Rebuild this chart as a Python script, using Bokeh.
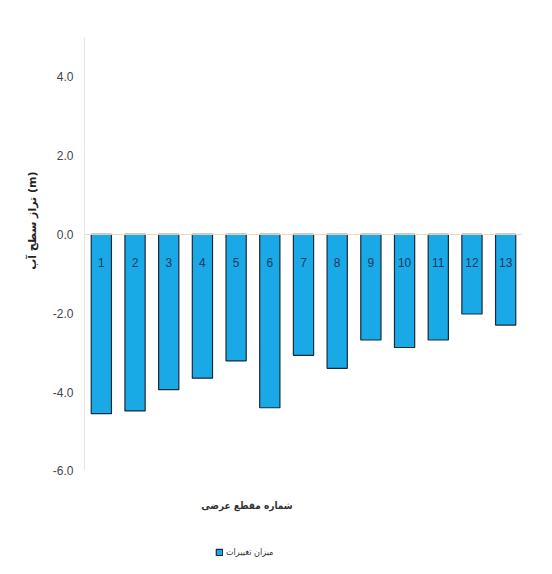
from bokeh.plotting import figure
from bokeh.models import (ColumnDataSource, Range1d, FactorRange, FixedTicker,
                          NumeralTickFormatter, Legend, LegendItem, Span, Title, Label)
from bokeh.core.properties import value
from bokeh.embed import file_html
from bokeh.resources import INLINE

# ---- data ----
sections = ["1", "2", "3", "4", "5", "6", "7", "8", "9", "10", "11", "12", "13"]
changes = [-4.55, -4.48, -3.94, -3.65, -3.21, -4.40, -3.07, -3.40, -2.68, -2.87, -2.68, -2.02, -2.30]
y_ticks = [-6, -4, -2, 0, 2, 4]
y_title = "تراز سطح آب (m)"
x_title = "شماره مقطع عرضی"
series_name = "میزان تغییرات"

base = [0] * len(sections)
src = ColumnDataSource(dict(sec=sections, val=changes, base=base))

p = figure(width=544, height=566, output_backend="svg", toolbar_location=None,
           x_range=FactorRange(*sections, range_padding=0),
           y_range=Range1d(-8.43, 5),
           min_border_left=84, min_border_right=22, min_border_top=37, min_border_bottom=0)
p.outline_line_color = None
p.xgrid.grid_line_color = None
p.ygrid.grid_line_color = None
p.background_fill_color = "white"
p.border_fill_color = "white"

bars = p.vbar(x="sec", top="val", bottom="base", width=0.6, source=src,
              fill_color="#18a9e6", line_color="#1b2a38", line_width=1.2)

p.text(x="sec", y="base", text="sec", source=src, y_offset=28,
       text_align="center", text_baseline="middle",
       text_font=value("Liberation Sans"), text_font_size="12px", text_color="#1f3a5f")

zero = Span(location=0, dimension="width", line_color="#f2d6bf", line_width=1)
p.add_layout(zero)

p.xaxis.visible = False

ya = p.yaxis[0]
ya.bounds = (-6, 5)
ya.ticker = FixedTicker(ticks=y_ticks)
ya.formatter = NumeralTickFormatter(format="0.0")
ya.major_tick_line_color = None
ya.minor_tick_line_color = None
ya.axis_line_color = "#e6e6e6"
ya.major_label_standoff = 5
ya.major_label_text_font = "Liberation Sans"
ya.major_label_text_font_size = "12px"
ya.major_label_text_color = "#444444"

yt = Title(text=y_title, align="right", offset=134, standoff=22,
           text_font="DejaVu Sans", text_font_style="bold", text_font_size="11px",
           text_color="#222222")
p.add_layout(yt, "left")

xt = Label(x=4.82, y=-6.88, text=x_title, text_align="center", text_baseline="middle",
           text_font="DejaVu Sans Condensed", text_font_style="bold", text_font_size="10px",
           text_color="#333333")
p.add_layout(xt)

legend = Legend(items=[LegendItem(label=series_name, renderers=[bars])],
                location=(131, 9), orientation="horizontal",
                glyph_width=8, glyph_height=8, padding=0, margin=0, spacing=0,
                label_standoff=3, label_text_font="DejaVu Sans Condensed", label_text_font_size="9px",
                label_text_color="#333333", border_line_color=None,
                background_fill_alpha=0)
p.add_layout(legend, "center")

open("out.html", "w").write(file_html(p, INLINE))
